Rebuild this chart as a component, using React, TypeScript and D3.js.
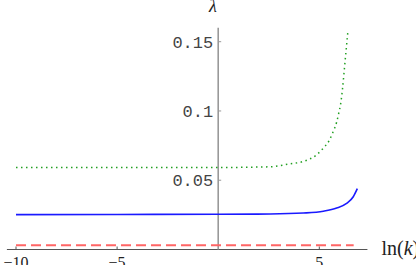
import React from "react";
import * as d3 from "d3";

// readings from the picture
const xTicks = [-10, -5, 5];
const yTicks = [0.05, 0.1, 0.15];
const yTickLabels = ["0.05", "0.1", "0.15"];

const redX = [-10, 6.7];
const redY = [0.003, 0.003];

const blueX = [-10, -5, 0, 2.57, 4.21, 5.2, 5.86, 6.35, 6.68, 6.88];
const blueY = [0.0252, 0.0253, 0.0254, 0.0256, 0.0263, 0.0276, 0.0299, 0.0333, 0.0381, 0.0439];

const greenX = [-10, 0, 2.57, 3.5, 4.21, 4.87, 5.2, 5.5, 5.69, 5.86, 5.96, 6.06, 6.15, 6.22, 6.28, 6.35, 6.42];
const greenY = [0.0592, 0.0592, 0.0597, 0.0617, 0.0636, 0.0684, 0.0732, 0.079, 0.0853, 0.092, 0.0983, 0.1055, 0.1163, 0.1271, 0.1367, 0.1475, 0.1584];

const xExtent = [-10.45, 7.38];
const yTop = 0.16;

const W = 416;
const H = 265;

const x = d3.scaleLinear().domain([-10, 5]).range([16, 319.3]);
const y = d3.scaleLinear().domain([0, 0.15]).range([249.5, 41.7]);

const line = d3
  .line<[number, number]>()
  .x((d) => x(d[0]))
  .y((d) => y(d[1]))
  .curve(d3.curveMonotoneX);

const zip = (xs: number[], ys: number[]): [number, number][] =>
  xs.map((v, i) => [v, ys[i]]);

const serif = "'Liberation Serif', 'DejaVu Serif', serif";

export default function App() {
  const y0 = y(0);
  const x0 = x(0);
  return (
    <svg
      width={W}
      height={H}
      style={{ position: "absolute", left: 0, top: 0, background: "#fff" }}
    >
      {/* x axis */}
      <line x1={x(xExtent[0])} x2={x(xExtent[1])} y1={y0} y2={y0} stroke="#555" strokeWidth={1} />
      {xTicks.map((t) => (
        <g key={t}>
          <line x1={x(t)} x2={x(t)} y1={y0} y2={y0 - 3} stroke="#555" strokeWidth={1} />
          <text x={x(t)} y={268} textAnchor="middle" fontFamily={serif} fontSize={16} fill="#222">
            {t < 0 ? "\u2212" + Math.abs(t) : t}
          </text>
        </g>
      ))}

      {/* y axis */}
      <line x1={x0} x2={x0} y1={y(yTop)} y2={y0} stroke="#999" strokeWidth={1.6} />
      {yTicks.map((t, i) => (
        <g key={t}>
          <line x1={x0} x2={x0 + 3} y1={y(t)} y2={y(t)} stroke="#999" strokeWidth={1} />
          <text
            x={x0 - 5}
            y={y(t) + 6}
            textAnchor="end"
            fontFamily="'Liberation Mono', 'DejaVu Sans Mono', monospace"
            fontSize={17}
            fill="#444"
          >
            {yTickLabels[i]}
          </text>
        </g>
      ))}

      {/* series */}
      <path
        d={line(zip(redX, redY)) || ""}
        fill="none"
        stroke="#ff6666"
        strokeWidth={2}
        strokeDasharray="10,5"
      />
      <path d={line(zip(blueX, blueY)) || ""} fill="none" stroke="#1a1aff" strokeWidth={1.6} />
      <path
        d={line(zip(greenX, greenY)) || ""}
        fill="none"
        stroke="#22a022"
        strokeWidth={1.5}
        strokeDasharray="1.5,3.5"
      />

      {/* axis labels */}
      <text
        x={213}
        y={12}
        textAnchor="middle"
        fontFamily={serif}
        fontStyle="italic"
        fontSize={18}
        fill="#222"
      >
        λ
      </text>
      <text x={381.5} y={255} fontFamily={serif} fontSize={20} fill="#222">
        ln(<tspan fontStyle="italic">k</tspan>)
      </text>
    </svg>
  );
}
